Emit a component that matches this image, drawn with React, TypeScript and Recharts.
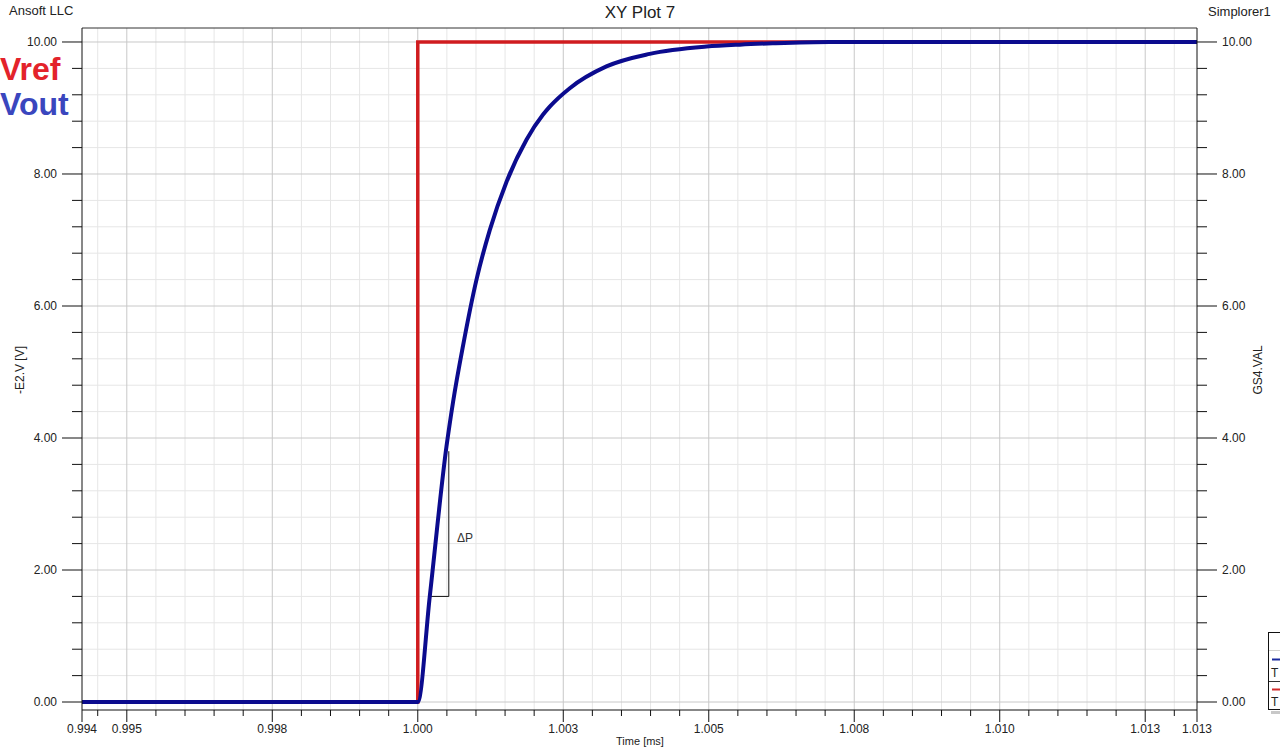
import React from "react";
import { LineChart, Line, XAxis, YAxis, ReferenceLine } from "recharts";

// ---- axis ranges (ms / V) ----
const xDomain = [0.99423, 1.01339];
const yDomain = [-0.121, 10.212];

// ---- x ticks ----
const xMajorTicks = [0.99423, 0.995, 0.9975, 1.0, 1.0025, 1.005, 1.0075, 1.01, 1.0125, 1.01339];
const xTickLabels = ["0.994", "0.995", "0.998", "1.000", "1.003", "1.005", "1.008", "1.010", "1.013", "1.013"];
const xMinorTicks = [
  0.9945, 0.9955, 0.996, 0.9965, 0.997, 0.998, 0.9985, 0.999, 0.9995,
  1.0005, 1.001, 1.0015, 1.002, 1.003, 1.0035, 1.004, 1.0045,
  1.0055, 1.006, 1.0065, 1.007, 1.008, 1.0085, 1.009, 1.0095,
  1.0105, 1.011, 1.0115, 1.012, 1.013,
];
const xMajorGrid = [0.995, 0.9975, 1.0, 1.0025, 1.005, 1.0075, 1.01, 1.0125];

// ---- y ticks ----
const yMajorTicks = [0, 2, 4, 6, 8, 10];
const yTickLabels = ["0.00", "2.00", "4.00", "6.00", "8.00", "10.00"];
const yMinorTicks = [
  0.4, 0.8, 1.2, 1.6, 2.4, 2.8, 3.2, 3.6, 4.4, 4.8, 5.2, 5.6,
  6.4, 6.8, 7.2, 7.6, 8.4, 8.8, 9.2, 9.6,
];

// ---- series ----
const vrefTime = [0.99423, 1.0, 1.0, 1.01339];
const vrefValue = [0, 0, 10, 10];

const voutTime = [
  0.99423, 1.0, 1.000206, 1.000493, 1.000607, 1.000778, 1.001009, 1.001237,
  1.001524, 1.001868, 1.002153, 1.002268, 1.002612, 1.003242, 1.003986, 1.00496,
  1.005533, 1.0061, 1.007079, 1.01339,
];
const voutValue = [
  0, 0, 1.6, 3.87, 4.55, 5.4, 6.4, 7.15, 7.88, 8.52, 8.9, 9.02, 9.3, 9.63,
  9.82, 9.93, 9.96, 9.98, 10.0, 10.0,
];

// ---- ΔP annotation ----
const dpTime = [1.000206, 1.000533];
const dpValue = [1.6, 3.8];

const vrefData = vrefTime.map((t, i) => ({ t, v: vrefValue[i] }));
const voutData = voutTime.map((t, i) => ({ t, v: voutValue[i] }));

const FONT = "'Liberation Sans', Arial, sans-serif";
const TXT = "#222";

const findIdx = (arr: number[], v: number) => arr.findIndex((m) => Math.abs(m - v) < 1e-7);

const XTick = (props: any) => {
  const { x, y, payload } = props;
  const idx = findIdx(xMajorTicks, payload.value);
  const major = idx >= 0;
  return (
    <g>
      <line x1={x} x2={x} y1={y} y2={y + (major ? 12 : 6)} stroke="#111" strokeWidth={1} />
      {major && (
        <text x={x} y={y + 23} textAnchor="middle" fontSize={12} fill={TXT} fontFamily={FONT}>
          {xTickLabels[idx]}
        </text>
      )}
    </g>
  );
};

const YTickLeft = (props: any) => {
  const { x, y, payload } = props;
  const idx = findIdx(yMajorTicks, payload.value);
  const major = idx >= 0;
  return (
    <g>
      <line x1={x - (major ? 20 : 10)} x2={x} y1={y} y2={y} stroke="#111" strokeWidth={1} />
      {major && (
        <text x={x - 25} y={y + 4} textAnchor="end" fontSize={12} fill={TXT} fontFamily={FONT}>
          {yTickLabels[idx]}
        </text>
      )}
    </g>
  );
};

const YTickRight = (props: any) => {
  const { x, y, payload } = props;
  const idx = findIdx(yMajorTicks, payload.value);
  const major = idx >= 0;
  return (
    <g>
      <line x1={x} x2={x + (major ? 20 : 10)} y1={y} y2={y} stroke="#111" strokeWidth={1} />
      {major && (
        <text x={x + 25} y={y + 4} textAnchor="start" fontSize={12} fill={TXT} fontFamily={FONT}>
          {yTickLabels[idx]}
        </text>
      )}
    </g>
  );
};

const allXTicks = [...xMajorTicks, ...xMinorTicks].sort((a, b) => a - b);
const allYTicks = [...yMajorTicks, ...yMinorTicks].sort((a, b) => a - b);

export default function App() {
  return (
    <div
      style={{
        position: "absolute",
        left: 0,
        top: 0,
        width: 1280,
        height: 752,
        background: "#fff",
        fontFamily: FONT,
        overflow: "hidden",
      }}
    >
      <LineChart
        width={1280}
        height={752}
        margin={{ top: 28, right: 23, bottom: 12, left: 22 }}
      >
        <XAxis
          dataKey="t"
          type="number"
          domain={xDomain}
          allowDataOverflow
          ticks={allXTicks}
          interval={0}
          tick={<XTick />}
          tickLine={false}
          tickSize={0}
          tickMargin={0}
          height={30}
          axisLine={{ stroke: "#111" }}
        />
        <YAxis
          yAxisId="left"
          type="number"
          domain={yDomain}
          allowDataOverflow
          ticks={allYTicks}
          interval={0}
          tick={<YTickLeft />}
          tickLine={false}
          tickSize={0}
          tickMargin={0}
          width={60}
          axisLine={{ stroke: "#111" }}
        />
        <YAxis
          yAxisId="right"
          orientation="right"
          type="number"
          domain={yDomain}
          allowDataOverflow
          ticks={allYTicks}
          interval={0}
          tick={<YTickRight />}
          tickLine={false}
          tickSize={0}
          tickMargin={0}
          width={60}
          axisLine={{ stroke: "#111" }}
        />

        {xMinorTicks.map((t) => (
          <ReferenceLine key={"xm" + t} x={t} yAxisId="left" stroke="#e6e6e6" strokeWidth={1} />
        ))}
        {yMinorTicks.map((v) => (
          <ReferenceLine key={"ym" + v} y={v} yAxisId="left" stroke="#e6e6e6" strokeWidth={1} />
        ))}
        {xMajorGrid.map((t) => (
          <ReferenceLine key={"xM" + t} x={t} yAxisId="left" stroke="#c8c8c8" strokeWidth={1} />
        ))}
        {yMajorTicks.map((v) => (
          <ReferenceLine key={"yM" + v} y={v} yAxisId="left" stroke="#c8c8c8" strokeWidth={1} />
        ))}
        <ReferenceLine y={yDomain[1]} yAxisId="left" stroke="#333" strokeWidth={1} />

        <ReferenceLine
          yAxisId="left"
          segment={[
            { x: dpTime[0], y: dpValue[0] },
            { x: dpTime[1], y: dpValue[0] },
          ]}
          stroke="#111"
          strokeWidth={1}
        />
        <ReferenceLine
          yAxisId="left"
          segment={[
            { x: dpTime[1], y: dpValue[0] },
            { x: dpTime[1], y: dpValue[1] },
          ]}
          stroke="#111"
          strokeWidth={1}
        />

        <Line
          yAxisId="left"
          data={vrefData}
          dataKey="v"
          type="linear"
          stroke="#d01c1f"
          strokeWidth={3.5}
          dot={false}
          activeDot={false}
          isAnimationActive={false}
        />
        <Line
          yAxisId="left"
          data={voutData}
          dataKey="v"
          type="monotone"
          stroke="#0b0b8e"
          strokeWidth={4}
          dot={false}
          activeDot={false}
          isAnimationActive={false}
        />
      </LineChart>

      <svg
        width={1280}
        height={752}
        style={{ position: "absolute", left: 0, top: 0, pointerEvents: "none" }}
        fontFamily={FONT}
      >
        <text x={9} y={15} fontSize={13} fill={TXT}>Ansoft LLC</text>
        <text x={640} y={18} fontSize={17} fill={TXT} textAnchor="middle">XY Plot 7</text>
        <text x={1208} y={16} fontSize={13} fill={TXT}>Simplorer1</text>

        <text x={0} y={80} fontSize={32} fontWeight="bold" fill="#e3232b">Vref</text>
        <text x={0} y={115} fontSize={32} fontWeight="bold" fill="#3a46be">Vout</text>

        <text x={465} y={542} fontSize={12} fill="#333" textAnchor="middle">ΔP</text>

        <text x={640} y={745} fontSize={11} fill={TXT} textAnchor="middle">Time [ms]</text>
        <text
          x={24}
          y={370}
          fontSize={12}
          fill={TXT}
          textAnchor="middle"
          transform="rotate(-90 24 370)"
        >
          -E2.V [V]
        </text>
        <text
          x={1262}
          y={370}
          fontSize={12}
          fill={TXT}
          textAnchor="middle"
          transform="rotate(-90 1262 370)"
        >
          GS4.VAL
        </text>

        {/* partial legend box at the right edge */}
        <rect x={1271} y={711} width={12} height={3} fill="#c8c8c8" />
        <rect x={1268.5} y={632.5} width={14} height={77} fill="#fff" stroke="#111" strokeWidth={1} />
        <line x1={1269} x2={1282} y1={650.5} y2={650.5} stroke="#cfcfcf" />
        <line x1={1272} x2={1282} y1={659.5} y2={659.5} stroke="#1a2a9e" strokeWidth={2} />
        <text x={1271} y={677} fontSize={12} fill={TXT}>T</text>
        <line x1={1269} x2={1282} y1={681.5} y2={681.5} stroke="#333" />
        <line x1={1272} x2={1282} y1={689.5} y2={689.5} stroke="#d02a2a" strokeWidth={2} />
        <text x={1271} y={706} fontSize={12} fill={TXT}>T</text>
      </svg>
    </div>
  );
}
